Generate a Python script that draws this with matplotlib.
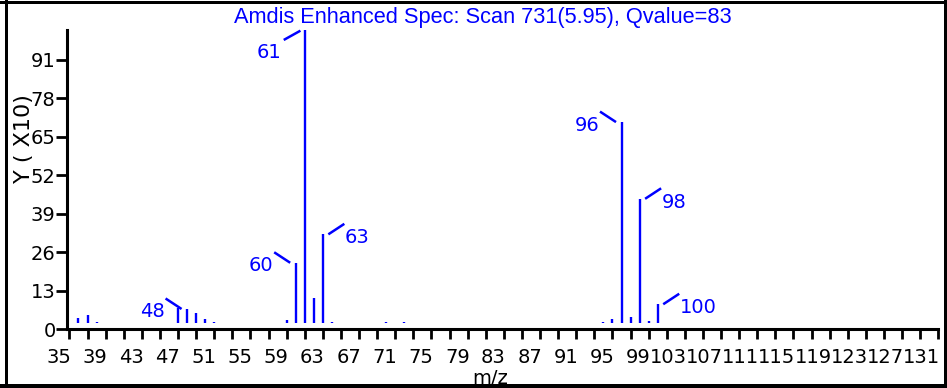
import matplotlib
matplotlib.use("Agg")
import matplotlib.pyplot as plt
from matplotlib import transforms
from matplotlib.lines import Line2D

# spectrum (intensity in units of 10)
mz = [36, 37, 38, 47, 48, 49, 50, 51, 59, 60, 61, 62, 63, 64, 70, 72,
      94, 95, 96, 97, 98, 99, 100]
inten = [1.8, 2.9, 0.6, 5.1, 4.9, 3.6, 1.4, 0.6, 1.2, 20.5, 99.1, 8.7, 30.1, 0.6, 0.6, 0.6,
         0.6, 1.4, 68.0, 2.3, 42.1, 1.0, 6.5]

labelled = [48, 60, 61, 63, 96, 98, 100]
label_side = ["left", "left", "down", "right", "left", "right", "right"]

xticks = list(range(35, 132, 4))
xminor = list(range(37, 131, 4))
yticks = [0, 13, 26, 39, 52, 65, 78, 91]

title = "Amdis Enhanced Spec: Scan 731(5.95), Qvalue=83"
BLUE = "#0000ff"
TFONT = "Liberation Sans"
FONT = "DejaVu Sans"
BASE = 1.96  # peaks start a little above the axis line

W, H = 947, 388
fig = plt.figure(figsize=(W / 100, H / 100), dpi=100)
ax = fig.add_axes([66.7 / W, 1 - 329.3 / H, (938.3 - 66.7) / W, (329.3 - 30) / H])

ax.vlines(mz, BASE, [BASE + v for v in inten], colors=BLUE, lw=1.7)

ax.set_xlim(34.7, 131)
ax.set_ylim(0, 101.05)
for s in ["top", "right"]:
    ax.spines[s].set_visible(False)
for s in ["left", "bottom"]:
    ax.spines[s].set_linewidth(2.2)
    ax.spines[s].set_color("black")

ax.set_xticks(xticks)
ax.set_xticks(xminor, minor=True)
ax.set_xticklabels([str(t) for t in xticks], fontsize=14, family=FONT, ha="right")
ax.tick_params(axis="x", which="both", direction="out", length=7.2, width=2, pad=6)
ax.set_yticks(yticks)
ax.set_yticklabels([str(t) for t in yticks], fontsize=14, family=FONT)
ax.tick_params(axis="y", direction="out", length=8, width=2, pad=0)
for lab in ax.get_xticklabels():
    lab.set_transform(lab.get_transform() + transforms.ScaledTranslation(2 / 100, 0, fig.dpi_scale_trans))

# peak labels with short leader strokes
geom = {
    "left": ((-5.5, 0), (-21.5, 10.5), (-22, -3), "right"),
    "right": ((5.5, 0), (21.5, 10.5), (22, -3.5), "left"),
    "down": ((-4.3, -0.7), (-21, -10), (-23, -23), "right"),
}
for m, side in zip(labelled, label_side):
    top = BASE + inten[mz.index(m)]
    (sx, sy), (ex, ey), (tx, ty), ha = geom[side]
    p0 = transforms.offset_copy(ax.transData, fig=fig, x=sx, y=sy, units="dots")
    p1 = transforms.offset_copy(ax.transData, fig=fig, x=ex, y=ey, units="dots")
    a = p0.transform((m, top))
    b = p1.transform((m, top))
    fig.add_artist(Line2D([a[0] / W, b[0] / W], [a[1] / H, b[1] / H], color=BLUE, lw=1.8,
                          transform=fig.transFigure, solid_capstyle="butt"))
    pt = transforms.offset_copy(ax.transData, fig=fig, x=tx, y=ty, units="dots")
    ax.text(m, top, str(m), transform=pt, color=BLUE, fontsize=14, family=FONT,
            ha=ha, va="center", clip_on=False)

fig.text(483 / W, 1 - 17 / H, title, color=BLUE, fontsize=15.7, family=TFONT,
         ha="center", va="center")
fig.text(24 / W, 1 - 139 / H, "Y ( X10)", rotation=90, fontsize=16, family=FONT,
         ha="center", va="center")
fig.text(490 / W, 3.5 / H, "m/z", fontsize=14, family=FONT, ha="center", va="baseline")

# outer frame
for xs, ys, lw in [((0, W), (1.5, 1.5), 3), ((0, W), (385.5, 385.5), 5),
                   ((6, 6), (0, H), 3), ((945, 945), (0, H), 3)]:
    fig.add_artist(Line2D([x / W for x in xs], [1 - y / H for y in ys], color="black",
                          lw=lw * 0.72, transform=fig.transFigure, zorder=10))

fig.savefig("out.png", dpi=100)
